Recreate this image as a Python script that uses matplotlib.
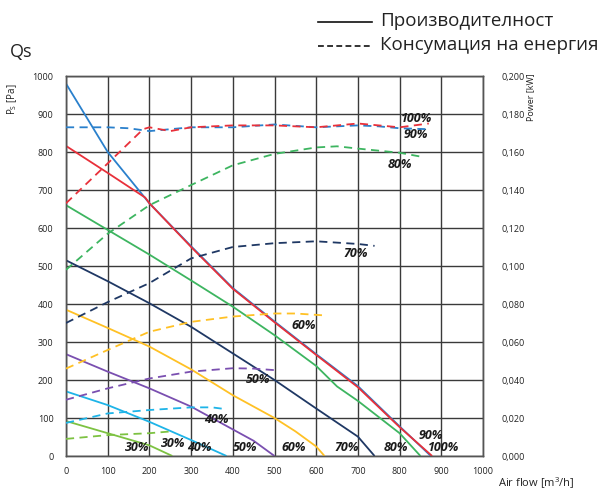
import matplotlib
matplotlib.use("Agg")
import matplotlib.pyplot as plt
from matplotlib.lines import Line2D
from matplotlib.ticker import FuncFormatter

plt.rcParams['font.family'] = ['Open Sans', 'DejaVu Sans']

# ---------------- data ----------------
speeds = ['100%', '90%', '80%', '70%', '60%', '50%', '40%', '30%']
colors = ['#E8303A', '#2A80CC', '#3DB560', '#1F3864', '#FFC125', '#7A4FB0', '#1EB4E8', '#7DC242']

# pressure curves (airflow m3/h, static pressure Pa)
p_x_100 = [0, 100, 190, 200, 300, 400, 500, 600, 700, 800, 878]
p_y_100 = [816, 745, 680, 665, 550, 440, 352, 266, 181, 76, 0]
p_x_90 = [0, 100, 200, 300, 400, 500, 600, 700, 800, 875]
p_y_90 = [980, 800, 665, 552, 442, 354, 268, 184, 78, 0]
p_x_80 = [0, 100, 200, 300, 400, 500, 600, 650, 700, 800, 850]
p_y_80 = [660, 595, 530, 462, 393, 318, 237, 183, 145, 60, 0]
p_x_70 = [0, 100, 200, 300, 400, 500, 600, 700, 740]
p_y_70 = [515, 460, 402, 340, 270, 200, 125, 51, 0]
p_x_60 = [0, 100, 200, 300, 400, 500, 550, 600, 620]
p_y_60 = [385, 337, 288, 228, 160, 100, 65, 25, 0]
p_x_50 = [0, 100, 200, 300, 400, 450, 500]
p_y_50 = [268, 222, 178, 130, 70, 40, 0]
p_x_40 = [0, 100, 200, 300, 385]
p_y_40 = [170, 134, 90, 42, 0]
p_x_30 = [0, 100, 200, 255]
p_y_30 = [92, 60, 28, 0]

# power curves (airflow m3/h, power kW)
w_x_100 = [0, 100, 185, 200, 250, 300, 400, 500, 600, 700, 800, 870]
w_y_100 = [0.133, 0.154, 0.172, 0.173, 0.171, 0.173, 0.174, 0.174, 0.173, 0.175, 0.173, 0.175]
w_x_90 = [0, 100, 150, 200, 250, 300, 400, 500, 600, 700, 750, 800, 870]
w_y_90 = [0.173, 0.173, 0.1725, 0.171, 0.172, 0.173, 0.173, 0.1745, 0.173, 0.174, 0.1735, 0.1725, 0.172]
w_x_80 = [0, 100, 200, 300, 400, 500, 600, 650, 700, 800, 850]
w_y_80 = [0.098, 0.117, 0.132, 0.1426, 0.153, 0.159, 0.1624, 0.163, 0.1618, 0.1596, 0.1576]
w_x_70 = [0, 100, 200, 300, 400, 500, 600, 700, 740]
w_y_70 = [0.070, 0.081, 0.091, 0.104, 0.110, 0.112, 0.113, 0.1116, 0.1106]
w_x_60 = [0, 100, 200, 300, 400, 500, 550, 620]
w_y_60 = [0.046, 0.0558, 0.0654, 0.0706, 0.0734, 0.075, 0.075, 0.074]
w_x_50 = [0, 100, 200, 300, 400, 450, 500]
w_y_50 = [0.0296, 0.0356, 0.0408, 0.0444, 0.0462, 0.046, 0.0452]
w_x_40 = [0, 100, 200, 300, 350, 385]
w_y_40 = [0.0174, 0.0224, 0.0242, 0.0256, 0.0256, 0.0246]
w_x_30 = [0, 100, 200, 255]
w_y_30 = [0.009, 0.011, 0.012, 0.013]

pressure = [(p_x_100, p_y_100), (p_x_90, p_y_90), (p_x_80, p_y_80), (p_x_70, p_y_70),
            (p_x_60, p_y_60), (p_x_50, p_y_50), (p_x_40, p_y_40), (p_x_30, p_y_30)]
power = [(w_x_100, w_y_100), (w_x_90, w_y_90), (w_x_80, w_y_80), (w_x_70, w_y_70),
         (w_x_60, w_y_60), (w_x_50, w_y_50), (w_x_40, w_y_40), (w_x_30, w_y_30)]

# curve labels (text, airflow, pressure)
label_text = ['100%', '90%', '80%', '70%', '60%', '50%', '40%',
              '30%', '30%', '40%', '50%', '60%', '70%', '80%', '90%', '100%']
label_x = [841, 838, 801, 695, 571, 461, 361,
           257, 170, 321, 429, 545, 673, 790, 875, 905]
label_y = [887, 847, 766, 532, 343, 202, 95,
           34, 23, 23, 23, 23, 23, 23, 55, 23]

x_ticks = list(range(0, 1001, 100))
y_ticks = list(range(0, 1001, 100))
w_ticks = [0.0, 0.02, 0.04, 0.06, 0.08, 0.10, 0.12, 0.14, 0.16, 0.18, 0.20]

# ---------------- figure ----------------
fig = plt.figure(figsize=(6.05, 4.9), dpi=100)
ax = fig.add_axes([66 / 605, 34 / 490, 417 / 605, 380 / 490])
ax2 = ax.twinx()

ax.set_xlim(0, 1000)
ax.set_ylim(0, 1000)
ax2.set_ylim(0, 0.2)
ax.set_xticks(x_ticks)
ax.set_yticks(y_ticks)
ax2.set_yticks(w_ticks)
ax.grid(True, color='#3a3a3a', linewidth=1.0)
ax.set_axisbelow(True)

for sp in list(ax.spines.values()) + list(ax2.spines.values()):
    sp.set_color('#555555')
    sp.set_linewidth(1.0)

ax.tick_params(axis='both', length=0, labelsize=6.5, colors='#222222')
ax.tick_params(axis='y', pad=9)
ax.tick_params(axis='x', pad=8)
ax2.tick_params(axis='y', length=0, labelsize=6.5, colors='#222222', pad=13)
ax2.yaxis.set_major_formatter(FuncFormatter(lambda v, p: f"{v:.3f}".replace('.', ',')))

# draw order: 90% under 100% so red sits on top of blue
order = [1, 0, 2, 3, 4, 5, 6, 7]
for i in order:
    px, py = pressure[i]
    ax.plot(px, py, color=colors[i], linewidth=1.3, solid_capstyle='butt', zorder=3)
for i in order:
    wx, wy = power[i]
    ax2.plot(wx, wy, color=colors[i], linewidth=1.3, linestyle=(0, (4.5, 3)), zorder=3)

for t, lx, ly in zip(label_text, label_x, label_y):
    ax.text(lx, ly, t, fontsize=9, fontweight='bold', fontstyle='italic',
            color='#1a1a1a', ha='center', va='center', zorder=5)

# axis titles
fig.text(12 / 605, 1 - 99 / 490, 'P$_\\mathregular{S}$ [Pa]', rotation=90, fontsize=7,
         ha='center', va='center', color='#222222')
fig.text(531 / 605, 1 - 97 / 490, 'Power [kW]', rotation=90, fontsize=6.5,
         ha='center', va='center', color='#222222')
fig.text(498 / 605, 1 - 483 / 490, 'Air flow [m$^\\mathregular{3}$/h]', fontsize=8,
         ha='left', va='center', color='#222222')
fig.text(10 / 605, 1 - 52 / 490, 'Qs', fontsize=13, ha='left', va='center', color='#222222')

# legend
fig.add_artist(Line2D([318 / 605, 372 / 605], [1 - 22 / 490, 1 - 22 / 490],
                      color='#111111', linewidth=1.2, transform=fig.transFigure))
fig.add_artist(Line2D([318 / 605, 372 / 605], [1 - 46 / 490, 1 - 46 / 490],
                      color='#111111', linewidth=1.2, linestyle=(0, (3.5, 2)),
                      transform=fig.transFigure))
fig.text(380 / 605, 1 - 21 / 490, 'Производителност', fontsize=13.5, ha='left', va='center',
         color='#222222')
fig.text(380 / 605, 1 - 45 / 490, 'Консумация на енергия', fontsize=13.5, ha='left',
         va='center', color='#222222')

fig.savefig('out.png', dpi=100)
